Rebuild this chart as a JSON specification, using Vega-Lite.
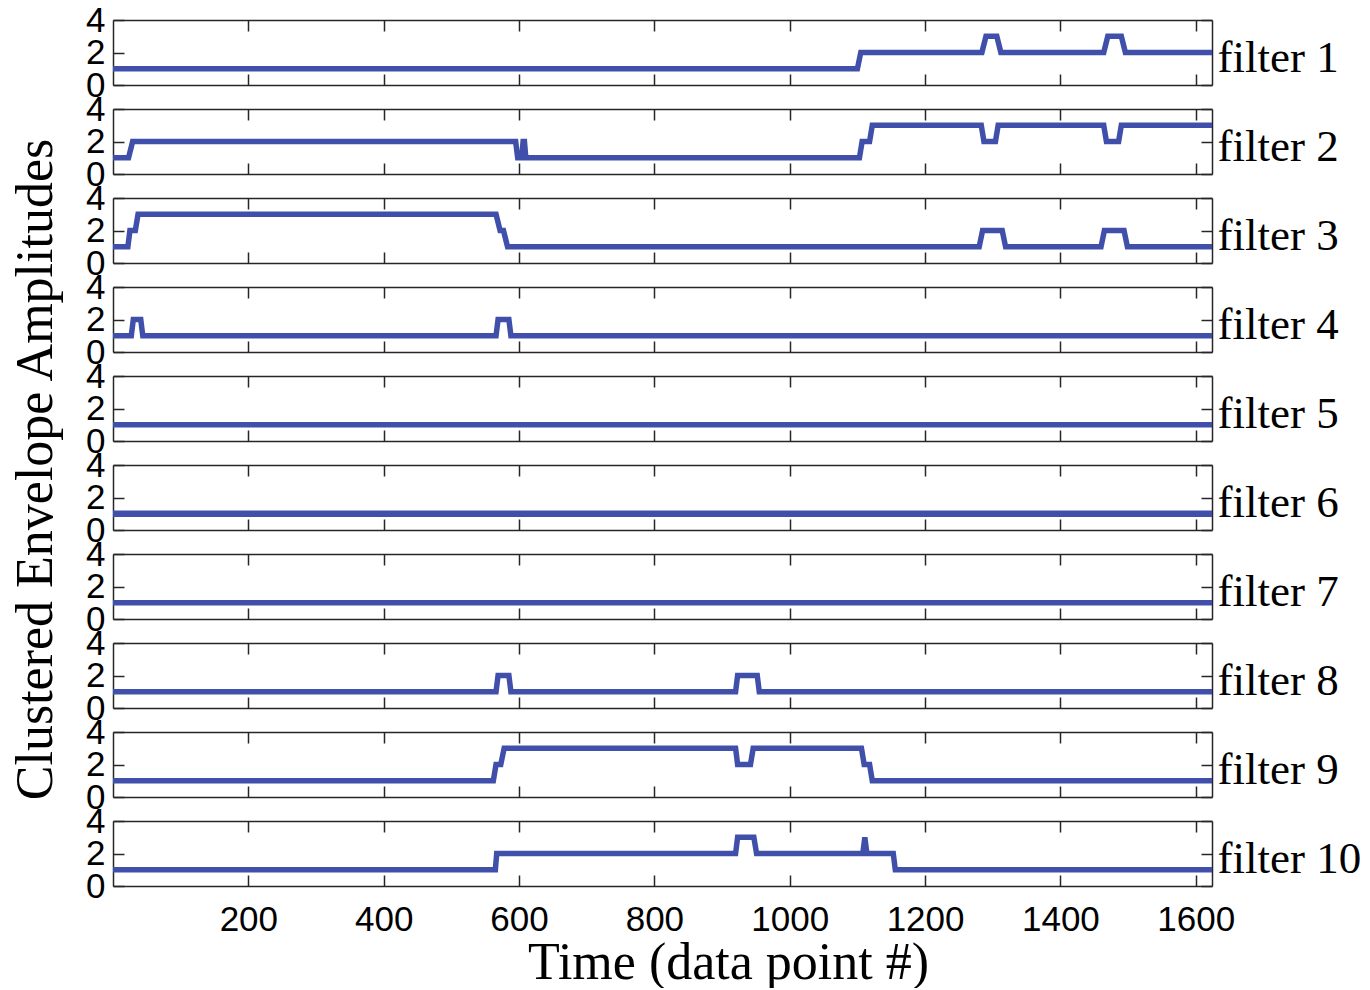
{
  "$schema": "https://vega.github.io/schema/vega-lite/v6.json",
  "background": "white",
  "padding": {"left": 8, "top": 3, "right": 5, "bottom": 0},
  "spacing": 24,
  "bounds": "flush",
  "datasets": {
    "f1": [{"t":0,"v":1},{"t":1100,"v":1},{"t":1105,"v":2},{"t":1284,"v":2},{"t":1290,"v":3},{"t":1306,"v":3},{"t":1312,"v":2},{"t":1464,"v":2},{"t":1470,"v":3},{"t":1490,"v":3},{"t":1496,"v":2},{"t":1624,"v":2}],
    "f2": [{"t":0,"v":1},{"t":23,"v":1},{"t":29,"v":2},{"t":595,"v":2},{"t":598,"v":1},{"t":604,"v":1},{"t":606,"v":2},{"t":608,"v":2},{"t":610,"v":1},{"t":1103,"v":1},{"t":1107,"v":2},{"t":1118,"v":2},{"t":1122,"v":3},{"t":1283,"v":3},{"t":1287,"v":2},{"t":1304,"v":2},{"t":1308,"v":3},{"t":1464,"v":3},{"t":1468,"v":2},{"t":1486,"v":2},{"t":1490,"v":3},{"t":1624,"v":3}],
    "f3": [{"t":0,"v":1},{"t":22,"v":1},{"t":25,"v":2},{"t":33,"v":2},{"t":37,"v":3},{"t":566,"v":3},{"t":572,"v":2},{"t":577,"v":2},{"t":583,"v":1},{"t":1280,"v":1},{"t":1285,"v":2},{"t":1314,"v":2},{"t":1319,"v":1},{"t":1460,"v":1},{"t":1465,"v":2},{"t":1494,"v":2},{"t":1499,"v":1},{"t":1624,"v":1}],
    "f4": [{"t":0,"v":1},{"t":27,"v":1},{"t":30,"v":2},{"t":41,"v":2},{"t":44,"v":1},{"t":566,"v":1},{"t":569,"v":2},{"t":585,"v":2},{"t":588,"v":1},{"t":1624,"v":1}],
    "f5": [{"t":0,"v":1},{"t":1624,"v":1}],
    "f6": [{"t":0,"v":1},{"t":1624,"v":1}],
    "f7": [{"t":0,"v":1},{"t":1624,"v":1}],
    "f8": [{"t":0,"v":1},{"t":566,"v":1},{"t":569,"v":2},{"t":585,"v":2},{"t":588,"v":1},{"t":920,"v":1},{"t":923,"v":2},{"t":952,"v":2},{"t":955,"v":1},{"t":1624,"v":1}],
    "f9": [{"t":0,"v":1},{"t":562,"v":1},{"t":566,"v":2},{"t":573,"v":2},{"t":578,"v":3},{"t":920,"v":3},{"t":923,"v":2},{"t":942,"v":2},{"t":946,"v":3},{"t":1106,"v":3},{"t":1110,"v":2},{"t":1118,"v":2},{"t":1122,"v":1},{"t":1624,"v":1}],
    "f10": [{"t":0,"v":1},{"t":565,"v":1},{"t":567,"v":2},{"t":920,"v":2},{"t":923,"v":3},{"t":947,"v":3},{"t":951,"v":2},{"t":1108,"v":2},{"t":1111,"v":3},{"t":1114,"v":2},{"t":1153,"v":2},{"t":1156,"v":1},{"t":1624,"v":1}]
  },
  "vconcat": [
    {"width": 1099, "height": 65, "data": {"name": "f1"}, "resolve": {"axis": {"x": "independent", "y": "independent"}},
     "layer": [
      {"mark": {"type": "line", "color": "#4050AA", "strokeWidth": 5.5, "clip": true},
       "encoding": {"x": {"field": "t", "type": "quantitative", "scale": {"domain": [0, 1624], "nice": false, "zero": false}, "axis": {"orient": "bottom", "values": [200, 400, 600, 800, 1000, 1200, 1400, 1600], "labels": false, "title": null}},
                    "y": {"field": "v", "type": "quantitative", "scale": {"domain": [0, 4], "nice": false}, "axis": {"orient": "left", "values": [0, 2, 4], "title": null}}}},
      {"mark": {"type": "line", "opacity": 0, "clip": true},
       "encoding": {"x": {"field": "t", "type": "quantitative", "axis": {"orient": "top", "values": [200, 400, 600, 800, 1000, 1200, 1400, 1600], "labels": false, "title": null}},
                    "y": {"field": "v", "type": "quantitative", "axis": {"orient": "right", "values": [0, 2, 4], "labels": false, "title": "filter 1", "titleAngle": 0, "titleAlign": "left", "titleBaseline": "alphabetic", "titleFontSize": 45, "titleX": 5, "titleY": 51}}}}
     ]},
    {"width": 1099, "height": 65, "data": {"name": "f2"}, "resolve": {"axis": {"x": "independent", "y": "independent"}},
     "layer": [
      {"mark": {"type": "line", "color": "#4050AA", "strokeWidth": 5.5, "clip": true},
       "encoding": {"x": {"field": "t", "type": "quantitative", "scale": {"domain": [0, 1624], "nice": false, "zero": false}, "axis": {"orient": "bottom", "values": [200, 400, 600, 800, 1000, 1200, 1400, 1600], "labels": false, "title": null}},
                    "y": {"field": "v", "type": "quantitative", "scale": {"domain": [0, 4], "nice": false}, "axis": {"orient": "left", "values": [0, 2, 4], "title": null}}}},
      {"mark": {"type": "line", "opacity": 0, "clip": true},
       "encoding": {"x": {"field": "t", "type": "quantitative", "axis": {"orient": "top", "values": [200, 400, 600, 800, 1000, 1200, 1400, 1600], "labels": false, "title": null}},
                    "y": {"field": "v", "type": "quantitative", "axis": {"orient": "right", "values": [0, 2, 4], "labels": false, "title": "filter 2", "titleAngle": 0, "titleAlign": "left", "titleBaseline": "alphabetic", "titleFontSize": 45, "titleX": 5, "titleY": 51}}}}
     ]},
    {"width": 1099, "height": 65, "data": {"name": "f3"}, "resolve": {"axis": {"x": "independent", "y": "independent"}},
     "layer": [
      {"mark": {"type": "line", "color": "#4050AA", "strokeWidth": 5.5, "clip": true},
       "encoding": {"x": {"field": "t", "type": "quantitative", "scale": {"domain": [0, 1624], "nice": false, "zero": false}, "axis": {"orient": "bottom", "values": [200, 400, 600, 800, 1000, 1200, 1400, 1600], "labels": false, "title": null}},
                    "y": {"field": "v", "type": "quantitative", "scale": {"domain": [0, 4], "nice": false}, "axis": {"orient": "left", "values": [0, 2, 4], "title": null}}}},
      {"mark": {"type": "line", "opacity": 0, "clip": true},
       "encoding": {"x": {"field": "t", "type": "quantitative", "axis": {"orient": "top", "values": [200, 400, 600, 800, 1000, 1200, 1400, 1600], "labels": false, "title": null}},
                    "y": {"field": "v", "type": "quantitative", "axis": {"orient": "right", "values": [0, 2, 4], "labels": false, "title": "filter 3", "titleAngle": 0, "titleAlign": "left", "titleBaseline": "alphabetic", "titleFontSize": 45, "titleX": 5, "titleY": 51}}}}
     ]},
    {"width": 1099, "height": 65, "data": {"name": "f4"}, "resolve": {"axis": {"x": "independent", "y": "independent"}},
     "layer": [
      {"mark": {"type": "line", "color": "#4050AA", "strokeWidth": 5.5, "clip": true},
       "encoding": {"x": {"field": "t", "type": "quantitative", "scale": {"domain": [0, 1624], "nice": false, "zero": false}, "axis": {"orient": "bottom", "values": [200, 400, 600, 800, 1000, 1200, 1400, 1600], "labels": false, "title": null}},
                    "y": {"field": "v", "type": "quantitative", "scale": {"domain": [0, 4], "nice": false}, "axis": {"orient": "left", "values": [0, 2, 4], "title": null}}}},
      {"mark": {"type": "line", "opacity": 0, "clip": true},
       "encoding": {"x": {"field": "t", "type": "quantitative", "axis": {"orient": "top", "values": [200, 400, 600, 800, 1000, 1200, 1400, 1600], "labels": false, "title": null}},
                    "y": {"field": "v", "type": "quantitative", "axis": {"orient": "right", "values": [0, 2, 4], "labels": false, "title": "filter 4", "titleAngle": 0, "titleAlign": "left", "titleBaseline": "alphabetic", "titleFontSize": 45, "titleX": 5, "titleY": 51}}}}
     ]},
    {"width": 1099, "height": 65, "data": {"name": "f5"}, "resolve": {"axis": {"x": "independent", "y": "independent"}},
     "layer": [
      {"mark": {"type": "line", "color": "#4050AA", "strokeWidth": 5.5, "clip": true},
       "encoding": {"x": {"field": "t", "type": "quantitative", "scale": {"domain": [0, 1624], "nice": false, "zero": false}, "axis": {"orient": "bottom", "values": [200, 400, 600, 800, 1000, 1200, 1400, 1600], "labels": false, "title": null}},
                    "y": {"field": "v", "type": "quantitative", "scale": {"domain": [0, 4], "nice": false}, "axis": {"orient": "left", "values": [0, 2, 4], "title": null}}}},
      {"mark": {"type": "line", "opacity": 0, "clip": true},
       "encoding": {"x": {"field": "t", "type": "quantitative", "axis": {"orient": "top", "values": [200, 400, 600, 800, 1000, 1200, 1400, 1600], "labels": false, "title": null}},
                    "y": {"field": "v", "type": "quantitative", "axis": {"orient": "right", "values": [0, 2, 4], "labels": false, "title": "filter 5", "titleAngle": 0, "titleAlign": "left", "titleBaseline": "alphabetic", "titleFontSize": 45, "titleX": 5, "titleY": 51}}}}
     ]},
    {"width": 1099, "height": 65, "data": {"name": "f6"}, "resolve": {"axis": {"x": "independent", "y": "independent"}},
     "layer": [
      {"mark": {"type": "line", "color": "#4050AA", "strokeWidth": 6.5, "clip": true},
       "encoding": {"x": {"field": "t", "type": "quantitative", "scale": {"domain": [0, 1624], "nice": false, "zero": false}, "axis": {"orient": "bottom", "values": [200, 400, 600, 800, 1000, 1200, 1400, 1600], "labels": false, "title": null}},
                    "y": {"field": "v", "type": "quantitative", "scale": {"domain": [0, 4], "nice": false}, "axis": {"orient": "left", "values": [0, 2, 4], "title": "Clustered Envelope Amplitudes", "titleFontSize": 52, "titleAngle": -90, "titleAlign": "center", "titleBaseline": "middle", "titleX": -78, "titleY": 4}}}},
      {"mark": {"type": "line", "opacity": 0, "clip": true},
       "encoding": {"x": {"field": "t", "type": "quantitative", "axis": {"orient": "top", "values": [200, 400, 600, 800, 1000, 1200, 1400, 1600], "labels": false, "title": null}},
                    "y": {"field": "v", "type": "quantitative", "axis": {"orient": "right", "values": [0, 2, 4], "labels": false, "title": "filter 6", "titleAngle": 0, "titleAlign": "left", "titleBaseline": "alphabetic", "titleFontSize": 45, "titleX": 5, "titleY": 51}}}}
     ]},
    {"width": 1099, "height": 65, "data": {"name": "f7"}, "resolve": {"axis": {"x": "independent", "y": "independent"}},
     "layer": [
      {"mark": {"type": "line", "color": "#4050AA", "strokeWidth": 5.5, "clip": true},
       "encoding": {"x": {"field": "t", "type": "quantitative", "scale": {"domain": [0, 1624], "nice": false, "zero": false}, "axis": {"orient": "bottom", "values": [200, 400, 600, 800, 1000, 1200, 1400, 1600], "labels": false, "title": null}},
                    "y": {"field": "v", "type": "quantitative", "scale": {"domain": [0, 4], "nice": false}, "axis": {"orient": "left", "values": [0, 2, 4], "title": null}}}},
      {"mark": {"type": "line", "opacity": 0, "clip": true},
       "encoding": {"x": {"field": "t", "type": "quantitative", "axis": {"orient": "top", "values": [200, 400, 600, 800, 1000, 1200, 1400, 1600], "labels": false, "title": null}},
                    "y": {"field": "v", "type": "quantitative", "axis": {"orient": "right", "values": [0, 2, 4], "labels": false, "title": "filter 7", "titleAngle": 0, "titleAlign": "left", "titleBaseline": "alphabetic", "titleFontSize": 45, "titleX": 5, "titleY": 51}}}}
     ]},
    {"width": 1099, "height": 65, "data": {"name": "f8"}, "resolve": {"axis": {"x": "independent", "y": "independent"}},
     "layer": [
      {"mark": {"type": "line", "color": "#4050AA", "strokeWidth": 5.5, "clip": true},
       "encoding": {"x": {"field": "t", "type": "quantitative", "scale": {"domain": [0, 1624], "nice": false, "zero": false}, "axis": {"orient": "bottom", "values": [200, 400, 600, 800, 1000, 1200, 1400, 1600], "labels": false, "title": null}},
                    "y": {"field": "v", "type": "quantitative", "scale": {"domain": [0, 4], "nice": false}, "axis": {"orient": "left", "values": [0, 2, 4], "title": null}}}},
      {"mark": {"type": "line", "opacity": 0, "clip": true},
       "encoding": {"x": {"field": "t", "type": "quantitative", "axis": {"orient": "top", "values": [200, 400, 600, 800, 1000, 1200, 1400, 1600], "labels": false, "title": null}},
                    "y": {"field": "v", "type": "quantitative", "axis": {"orient": "right", "values": [0, 2, 4], "labels": false, "title": "filter 8", "titleAngle": 0, "titleAlign": "left", "titleBaseline": "alphabetic", "titleFontSize": 45, "titleX": 5, "titleY": 51}}}}
     ]},
    {"width": 1099, "height": 65, "data": {"name": "f9"}, "resolve": {"axis": {"x": "independent", "y": "independent"}},
     "layer": [
      {"mark": {"type": "line", "color": "#4050AA", "strokeWidth": 5.5, "clip": true},
       "encoding": {"x": {"field": "t", "type": "quantitative", "scale": {"domain": [0, 1624], "nice": false, "zero": false}, "axis": {"orient": "bottom", "values": [200, 400, 600, 800, 1000, 1200, 1400, 1600], "labels": false, "title": null}},
                    "y": {"field": "v", "type": "quantitative", "scale": {"domain": [0, 4], "nice": false}, "axis": {"orient": "left", "values": [0, 2, 4], "title": null}}}},
      {"mark": {"type": "line", "opacity": 0, "clip": true},
       "encoding": {"x": {"field": "t", "type": "quantitative", "axis": {"orient": "top", "values": [200, 400, 600, 800, 1000, 1200, 1400, 1600], "labels": false, "title": null}},
                    "y": {"field": "v", "type": "quantitative", "axis": {"orient": "right", "values": [0, 2, 4], "labels": false, "title": "filter 9", "titleAngle": 0, "titleAlign": "left", "titleBaseline": "alphabetic", "titleFontSize": 45, "titleX": 5, "titleY": 51}}}}
     ]},
    {"width": 1099, "height": 65, "data": {"name": "f10"}, "resolve": {"axis": {"x": "independent", "y": "independent"}},
     "layer": [
      {"mark": {"type": "line", "color": "#4050AA", "strokeWidth": 5.5, "clip": true},
       "encoding": {"x": {"field": "t", "type": "quantitative", "scale": {"domain": [0, 1624], "nice": false, "zero": false}, "axis": {"orient": "bottom", "values": [200, 400, 600, 800, 1000, 1200, 1400, 1600], "format": "d", "title": "Time (data point #)", "titleFontSize": 52, "titleAlign": "center", "titleBaseline": "alphabetic", "titleX": 615, "titleY": 92}},
                    "y": {"field": "v", "type": "quantitative", "scale": {"domain": [0, 4], "nice": false}, "axis": {"orient": "left", "values": [0, 2, 4], "title": null}}}},
      {"mark": {"type": "line", "opacity": 0, "clip": true},
       "encoding": {"x": {"field": "t", "type": "quantitative", "axis": {"orient": "top", "values": [200, 400, 600, 800, 1000, 1200, 1400, 1600], "labels": false, "title": null}},
                    "y": {"field": "v", "type": "quantitative", "axis": {"orient": "right", "values": [0, 2, 4], "labels": false, "title": "filter 10", "titleAngle": 0, "titleAlign": "left", "titleBaseline": "alphabetic", "titleFontSize": 45, "titleX": 5, "titleY": 51}}}}
     ]}
  ],
  "config": {
    "view": {"stroke": null},
    "axis": {"grid": false, "domainColor": "#262626", "domainWidth": 1.5, "tickColor": "#262626", "tickWidth": 1.5, "tickSize": -11,
             "labelFont": "Liberation Sans", "labelFontSize": 35, "labelColor": "black", "labelFlush": false, "labelOverlap": false,
             "titleFont": "Liberation Serif", "titleFontWeight": "normal", "titleColor": "black"},
    "axisX": {"labelPadding": 27},
    "axisY": {"labelPadding": 19}
  }
}
